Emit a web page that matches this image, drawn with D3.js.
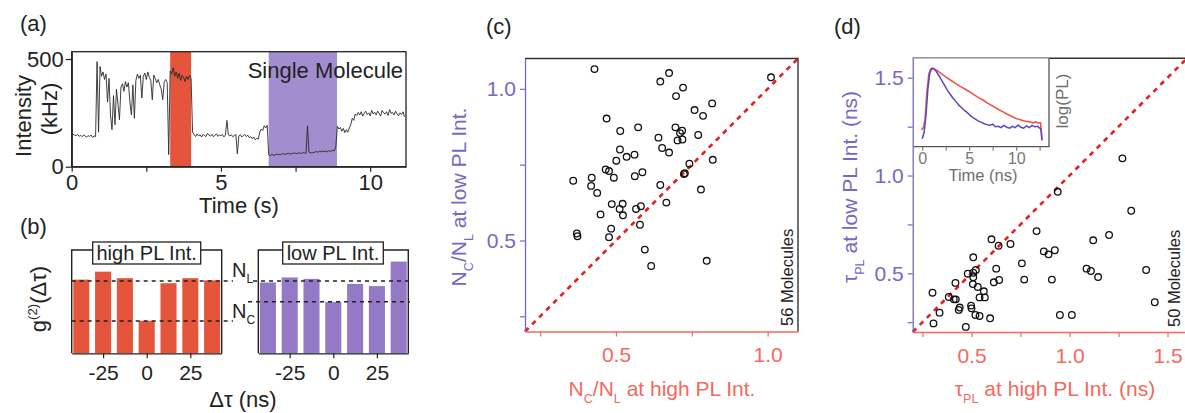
<!DOCTYPE html>
<html><head><meta charset="utf-8">
<script src="https://cdn.jsdelivr.net/npm/d3@7"></script>
<style>
body{margin:0;background:#fff;}
text{font-family:"Liberation Sans",Arial,Helvetica,sans-serif;}
</style></head><body>
<svg id="fig" width="1185" height="413"></svg>
<script>
// ---------------- DATA ----------------
// (a) intensity trace, kHz, sampled every 0.05 s starting at 0 s
const traceStep = 0.05;
const traceIntensity = [
158,150,147,144,150,141,146,139,148,142,137,145,140,147,136,143,139,
488,160,465,420,440,405,430,300,410,240,172,330,195,360,290,218,370,385,350,395,370,390,300,241,
380,225,400,430,410,425,319,420,435,405,440,415,400,311,425,410,390,405,380,360,311,395,405,390,56,
445,430,460,420,440,410,435,400,425,415,395,420,405,425,410,160,
150,140,152,143,148,138,150,145,140,155,147,142,150,139,146,152,141,148,144,150,138,147,215,147,143,148,139,145,150,60,
142,148,138,145,150,140,146,135,140,130,138,125,132,128,160,175,168,190,180,192,
55,50,58,54,52,60,56,58,55,62,57,60,58,63,59,61,60,64,62,60,65,63,61,66,64,62,190,
67,65,63,66,68,70,67,72,69,74,70,72,68,75,71,73,76,74,95,
188,175,182,165,178,158,172,160,180,195,225,215,245,
238,252,240,255,235,248,258,242,250,236,262,245,253,240,258,248,235,262,250,245,255,238,265,248,252,240,258,245,236,250,242,255,232
];
const highBand = [3.30, 4.00];   // s
const lowBand = [6.60, 8.89];    // s
const aXTicks = [0, 2.5, 5, 7.5, 10];
const aXLabels = ["0", "", "5", "", "10"];
const aYTicks = [0, 500];

// (b) g2 histograms (normalised to N_L = 1)
const g2Delays = [-37.5, -25, -12.5, 0, 12.5, 25, 37.5];
const g2High = [1.02, 1.13, 1.04, 0.45, 0.97, 1.04, 1.01];
const g2Low = [0.98, 1.05, 1.03, 0.71, 0.96, 0.93, 1.27];
const highNL = 1.0, highNC = 0.447;
const lowNL = 1.0, lowNC = 0.714;
const bTicks = [-25, 0, 25];
const bTickLabels = ["-25", "0", "25"];

// (c) Nc/NL high vs low
const cHigh = [0.429,0.675,0.646,0.721,1.011,0.698,0.817,0.759,0.787,0.469,0.514,0.573,0.696,0.718,0.711,0.771,0.640,0.703,0.719,0.652,0.513,0.675,0.561,0.535,0.501,0.819,0.742,0.466,0.477,0.587,0.724,0.420,0.359,0.493,0.562,0.418,0.646,0.438,0.780,0.486,0.522,0.666,0.512,0.566,0.582,0.449,0.523,0.579,0.484,0.371,0.373,0.477,0.595,0.616,0.799,0.727];
const cLow  = [1.065,1.052,1.024,1.004,1.038,0.976,0.952,0.930,0.911,0.902,0.861,0.873,0.873,0.862,0.854,0.848,0.839,0.830,0.833,0.805,0.800,0.790,0.783,0.776,0.763,0.766,0.753,0.734,0.729,0.725,0.719,0.707,0.697,0.707,0.712,0.680,0.683,0.657,0.668,0.620,0.621,0.625,0.604,0.604,0.613,0.586,0.583,0.552,0.539,0.523,0.514,0.511,0.470,0.416,0.433,0.722];
const cTicks = [0.25, 0.5, 0.75, 1.0];
const cTickLabels = ["", "0.5", "", "1.0"];

// (d) tau_PL high vs low
const dHigh = [1.270,0.940,1.315,0.832,1.202,1.121,0.602,0.638,0.699,0.869,0.893,0.925,0.509,0.757,0.626,0.522,0.509,0.481,1.087,1.109,1.146,1.391,0.769,0.910,0.641,0.614,0.509,0.418,0.507,0.532,0.563,0.541,0.568,0.384,0.410,0.420,0.440,0.435,0.498,0.500,0.520,0.541,0.595,0.471,0.306,0.337,0.301,0.951,1.012,1.435];
const dLow  = [1.088,0.917,0.820,0.716,0.696,0.669,0.674,0.641,0.650,0.612,0.597,0.618,0.582,0.551,0.524,0.517,0.503,0.498,0.524,0.512,0.481,0.517,0.468,0.468,0.466,0.454,0.480,0.451,0.445,0.430,0.408,0.377,0.377,0.379,0.367,0.367,0.325,0.313,0.335,0.321,0.287,0.282,0.270,0.226,0.244,0.299,0.401,0.287,0.287,0.352];
const dTicks = [0.25, 0.5, 0.75, 1.0, 1.25, 1.5];
const dTickLabels = ["", "0.5", "", "1.0", "", "1.5"];

// (d) inset decay curves (log PL, arbitrary units)
const decayHighT = [-0.1,0.1,0.3,0.5,0.7,0.9,1.1,1.3,1.6,2.0,2.5,3.0,3.5,4.0,4.5,5.0,5.5,6.0,6.5,7.0,7.5,8.0,8.5,9.0,9.5,10.0,10.3,10.6,10.9,11.2,11.5,11.8,12.1,12.4,12.6,12.75];
const decayHighV = [0.19,0.21,0.30,0.62,0.82,0.88,0.89,0.88,0.86,0.83,0.79,0.755,0.72,0.685,0.655,0.625,0.59,0.555,0.525,0.49,0.46,0.43,0.40,0.37,0.345,0.32,0.31,0.30,0.29,0.285,0.28,0.27,0.28,0.265,0.27,0.08];
const decayLowT = [0.0,0.2,0.4,0.6,0.8,1.0,1.2,1.5,1.8,2.1,2.4,2.7,3.0,3.3,3.6,3.9,4.2,4.5,4.8,5.1,5.4,5.7,6.0,6.3,6.6,6.9,7.2,7.5,7.8,8.1,8.4,8.7,9.0,9.3,9.6,9.9,10.2,10.5,10.8,11.1,11.4,11.7,12.0,12.3,12.5,12.65,12.75];
const decayLowV = [0.09,0.16,0.35,0.65,0.83,0.88,0.885,0.85,0.80,0.745,0.69,0.635,0.59,0.545,0.51,0.47,0.44,0.41,0.385,0.355,0.33,0.31,0.29,0.275,0.26,0.25,0.24,0.255,0.225,0.23,0.215,0.24,0.22,0.21,0.23,0.215,0.245,0.22,0.21,0.235,0.215,0.24,0.225,0.23,0.21,0.2,0.07];
const insetTicks = [0, 2.5, 5, 7.5, 10, 12.5];
const insetTickLabels = ["0", "", "5", "", "10", ""];

// ---------------- STYLE ----------------
const FONT = '"Liberation Sans", Arial, Helvetica, sans-serif';
const RED = "#e5553b", PURPLE_BAR = "#9479c6", PURPLE_BAND = "#a28dcf";
const AX_PURPLE = "#7668c6", AX_RED = "#f4695d", DIAG = "#e3201b", INK = "#222";

const svg = d3.select("#fig");

function rich(sel, parts, fs) {
  let shift = 0;
  parts.forEach(([s, kind]) => {
    const t = sel.append("tspan").text(s);
    const target = kind === "sub" ? fs * 0.32 : kind === "sup" ? -fs * 0.42 : 0;
    t.attr("dy", target - shift);
    shift = target;
    if (kind) t.attr("font-size", fs * 0.6);
  });
}
function label(x, y, s, fs, opts = {}) {
  const t = svg.append("text").attr("x", x).attr("y", y)
    .attr("font-size", fs).attr("fill", opts.fill || INK)
    .attr("text-anchor", opts.anchor || "start");
  if (opts.rotate) t.attr("transform", `rotate(-90,${x},${y})`);
  if (Array.isArray(s)) rich(t, s, fs); else t.text(s);
  return t;
}
function styleAxis(g, color, fs, width) {
  g.attr("font-size", null).attr("font-family", null);
  g.selectAll("text").attr("fill", color).attr("font-size", fs).style("font-family", FONT);
  g.selectAll("line").attr("stroke", color).attr("stroke-width", width || 1.2);
  g.select(".domain").attr("stroke", color).attr("stroke-width", width || 1.3);
}

// ---------------- PANEL (a) ----------------
const ax = d3.scaleLinear().domain([0, 11.2]).range([71.7, 406]);
const ay = d3.scaleLinear().domain([0, 534]).range([166.7, 51.7]);
const ga = svg.append("g");
[[highBand, RED], [lowBand, PURPLE_BAND]].forEach(([b, c]) => {
  ga.append("rect").attr("x", ax(b[0])).attr("width", ax(b[1]) - ax(b[0]))
    .attr("y", ay(534)).attr("height", ay(0) - ay(534)).attr("fill", c);
});
ga.append("path").datum(traceIntensity)
  .attr("d", d3.line().x((d, i) => ax(i * traceStep)).y(d => ay(d)))
  .attr("fill", "none").attr("stroke", "#2a2a2a").attr("stroke-width", 0.9);
ga.append("rect").attr("x", ax(0)).attr("y", ay(534)).attr("width", ax(11.2) - ax(0))
  .attr("height", ay(0) - ay(534)).attr("fill", "none").attr("stroke", INK).attr("stroke-width", 1.3);
const gaX = ga.append("g").attr("transform", `translate(0,${ay(0)})`)
  .call(d3.axisBottom(ax).tickValues(aXTicks).tickFormat((d, i) => aXLabels[i]).tickSize(5).tickSizeOuter(0).tickPadding(3));
styleAxis(gaX, INK, 22);
const gaY = ga.append("g").attr("transform", `translate(${ax(0)},0)`)
  .call(d3.axisLeft(ay).tickValues(aYTicks).tickFormat(d3.format("d")).tickSize(6).tickSizeOuter(0).tickPadding(2));
styleAxis(gaY, INK, 22);
label(403, 78, "Single Molecule", 22, { anchor: "end" });
label(239, 213, "Time (s)", 22, { anchor: "middle" });
label(31, 116, "Intensity", 22, { anchor: "middle", rotate: true });
label(57, 109, "(kHz)", 22, { anchor: "middle", rotate: true });
label(20, 31, "(a)", 22);

// ---------------- PANEL (b) ----------------
const by = d3.scaleLinear().domain([0, 1.43]).range([353.3, 250]);
const barW = 9.2; // ns
function g2Panel(x0, x1, vals, color, boxL, boxR, title, NL, NC, nlRange, ncRange) {
  const bx = d3.scaleLinear().domain([-43, 43]).range([x0, x1]);
  const g = svg.append("g");
  g.selectAll("rect.bar").data(vals).join("rect").attr("class", "bar")
    .attr("x", (d, i) => bx(g2Delays[i] - barW / 2))
    .attr("width", bx(barW) - bx(0))
    .attr("y", d => by(d)).attr("height", d => by(0) - by(d)).attr("fill", color);
  // frame (top broken by title box)
  g.append("path").attr("d", `M${x0},${by(0)}V${by(1.43)}H${boxL}M${boxR},${by(1.43)}H${x1}V${by(0)}`)
    .attr("fill", "none").attr("stroke", INK).attr("stroke-width", 1.4);
  g.append("rect").attr("x", boxL).attr("y", 242).attr("width", boxR - boxL).attr("height", 22)
    .attr("fill", "#fff").attr("stroke", INK).attr("stroke-width", 1.3);
  g.append("text").attr("x", (boxL + boxR) / 2).attr("y", 260).attr("text-anchor", "middle")
    .attr("font-size", 20).attr("fill", INK).text(title);
  const gx = g.append("g").attr("transform", `translate(0,${by(0)})`)
    .call(d3.axisBottom(bx).tickValues(bTicks).tickFormat((d, i) => bTickLabels[i]).tickSize(5).tickSizeOuter(0).tickPadding(7));
  styleAxis(gx, INK, 21);
  g.append("line").attr("x1", nlRange[0]).attr("x2", nlRange[1]).attr("y1", by(NL)).attr("y2", by(NL))
    .attr("stroke", INK).attr("stroke-width", 1.6).attr("stroke-dasharray", "4,4");
  g.append("line").attr("x1", ncRange[0]).attr("x2", ncRange[1]).attr("y1", by(NC)).attr("y2", by(NC))
    .attr("stroke", INK).attr("stroke-width", 1.6).attr("stroke-dasharray", "4,4");
}
g2Panel(71.7, 221.7, g2High, RED, 92.7, 200.7, "high PL Int.", highNL, highNC, [71.7, 233], [71.7, 233]);
g2Panel(258.3, 408.3, g2Low, PURPLE_BAR, 282.7, 383.3, "low PL Int.", lowNL, lowNC, [253, 410], [248, 410]);
label(232, 277, [["N", null], ["L", "sub"]], 20);
label(232, 318, [["N", null], ["C", "sub"]], 20);
label(243, 407, "Δτ (ns)", 22, { anchor: "middle" });
label(46, 299, [["g", null], ["(2)", "sup"], ["(Δτ)", null]], 22, { anchor: "middle", rotate: true });
label(20, 234, "(b)", 22);

// ---------------- PANEL (c) ----------------
const cx = d3.scaleLinear().domain([0.2, 1.1]).range([525, 798]);
const cy = d3.scaleLinear().domain([0.2, 1.1]).range([331.5, 58.5]);
const gc = svg.append("g");
gc.append("path").attr("d", `M${cx(0.2)},${cy(1.1)}H${cx(1.1)}V${cy(0.2)}`)
  .attr("fill", "none").attr("stroke", "#333").attr("stroke-width", 1.4);
gc.append("line").attr("x1", cx(0.2)).attr("y1", cy(0.2)).attr("x2", cx(1.1)).attr("y2", cy(1.1))
  .attr("stroke", DIAG).attr("stroke-width", 2.6).attr("stroke-dasharray", "5,5");
gc.selectAll("circle").data(cHigh).join("circle")
  .attr("cx", d => cx(d)).attr("cy", (d, i) => cy(cLow[i])).attr("r", 3.3)
  .attr("fill", "none").attr("stroke", "#111").attr("stroke-width", 1.3);
const gcX = gc.append("g").attr("transform", `translate(0,${cy(0.2)})`)
  .call(d3.axisBottom(cx).tickValues(cTicks).tickFormat((d, i) => cTickLabels[i]).tickSize(5).tickSizeOuter(0).tickPadding(11));
styleAxis(gcX, AX_RED, 21);
const gcY = gc.append("g").attr("transform", `translate(${cx(0.2)},0)`)
  .call(d3.axisLeft(cy).tickValues(cTicks).tickFormat((d, i) => cTickLabels[i]).tickSize(5).tickSizeOuter(0).tickPadding(4));
styleAxis(gcY, AX_PURPLE, 21);
label(662, 396, [["N", null], ["C", "sub"], ["/N", null], ["L", "sub"], [" at high PL Int.", null]], 21, { anchor: "middle", fill: AX_RED });
label(466, 197, [["N", null], ["C", "sub"], ["/N", null], ["L", "sub"], [" at low PL Int.", null]], 21, { anchor: "middle", fill: AX_PURPLE, rotate: true });
label(793, 326, "56 Molecules", 16.5, { rotate: true });
label(486, 34, "(c)", 22);

// ---------------- PANEL (d) ----------------
const dx = d3.scaleLinear().domain([0.2, 1.6]).range([912.7, 1187.1]);
const dy = d3.scaleLinear().domain([0.2, 1.6]).range([332, 58.2]);
const gd = svg.append("g");
gd.append("path").attr("d", `M${dx(0.2)},${dy(1.6)}H${dx(1.6)}V${dy(0.2)}`)
  .attr("fill", "none").attr("stroke", "#333").attr("stroke-width", 1.4);
gd.append("line").attr("x1", dx(0.2)).attr("y1", dy(0.2)).attr("x2", dx(1.6)).attr("y2", dy(1.6))
  .attr("stroke", DIAG).attr("stroke-width", 2.6).attr("stroke-dasharray", "5,5");
gd.selectAll("circle").data(dHigh).join("circle")
  .attr("cx", d => dx(d)).attr("cy", (d, i) => dy(dLow[i])).attr("r", 3.3)
  .attr("fill", "none").attr("stroke", "#111").attr("stroke-width", 1.3);
// inset
const ix = d3.scaleLinear().domain([-0.95, 13.5]).range([913.3, 1049]);
const iy = d3.scaleLinear().domain([0, 1]).range([146.7, 58.3]);
gd.append("rect").attr("x", 913.3).attr("y", 58.3).attr("width", 1049 - 913.3).attr("height", 146.7 - 58.3).attr("fill", "#fff");
const iline = d3.line().x(d => ix(d[0])).y(d => iy(d[1]));
gd.append("path").datum(decayHighT.map((t, i) => [t, decayHighV[i]])).attr("d", iline)
  .attr("fill", "none").attr("stroke", "#f2544a").attr("stroke-width", 1.6);
gd.append("path").datum(decayLowT.map((t, i) => [t, decayLowV[i]])).attr("d", iline)
  .attr("fill", "none").attr("stroke", "#5a48c0").attr("stroke-width", 1.5);
gd.append("path").attr("d", `M913.3,146.7H1049V58.3`).attr("fill", "none").attr("stroke", "#555").attr("stroke-width", 1.3);
const giX = gd.append("g").attr("transform", `translate(0,146.7)`)
  .call(d3.axisBottom(ix).tickValues(insetTicks).tickFormat((d, i) => insetTickLabels[i]).tickSize(4).tickSizeOuter(0).tickPadding(2));
giX.select(".domain").remove();
styleAxis(giX, "#777", 16, 1.1);
label(983, 181, "Time (ns)", 16.5, { anchor: "middle", fill: "#6f6f6f" });
label(1068, 101, "log(PL)", 17, { anchor: "middle", fill: "#6f6f6f", rotate: true });
const gdX = gd.append("g").attr("transform", `translate(0,${dy(0.2)})`)
  .call(d3.axisBottom(dx).tickValues(dTicks).tickFormat((d, i) => dTickLabels[i]).tickSize(5).tickSizeOuter(0).tickPadding(11));
styleAxis(gdX, AX_RED, 21);
const gdY = gd.append("g").attr("transform", `translate(${dx(0.2)},0)`)
  .call(d3.axisLeft(dy).tickValues(dTicks).tickFormat((d, i) => dTickLabels[i]).tickSize(5).tickSizeOuter(0).tickPadding(4));
styleAxis(gdY, AX_PURPLE, 21);
label(1055, 396, [["τ", null], ["PL", "sub"], [" at high PL Int. (ns)", null]], 21, { anchor: "middle", fill: AX_RED });
label(857, 187, [["τ", null], ["PL", "sub"], [" at low PL Int. (ns)", null]], 21, { anchor: "middle", fill: AX_PURPLE, rotate: true });
label(1180, 327, "50 Molecules", 16.5, { rotate: true });
label(834, 34, "(d)", 22);
</script>
</body></html>
